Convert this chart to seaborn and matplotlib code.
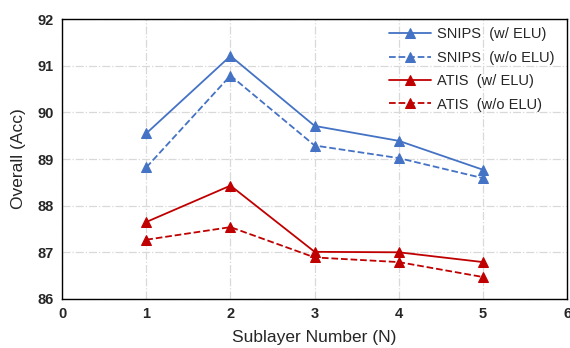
import pandas as pd
from matplotlib import pyplot as plt
import seaborn as sns

sns.set_style("white")
plt.rcParams['font.family'] = ['Liberation Sans', 'DejaVu Sans']

# 데이터
layers = [1, 2, 3, 4, 5]
snips_elu = [89.55, 91.21, 89.71, 89.39, 88.77]
snips_no_elu = [88.82, 90.79, 89.29, 89.02, 88.59]
atis_elu = [87.65, 88.43, 87.01, 87.00, 86.79]
atis_no_elu = [87.27, 87.54, 86.89, 86.79, 86.47]

series = [
    ("SNIPS  (w/ ELU)", snips_elu, "#4472C4", "-"),
    ("SNIPS  (w/o ELU)", snips_no_elu, "#4472C4", "--"),
    ("ATIS  (w/ ELU)", atis_elu, "#C00000", "-"),
    ("ATIS  (w/o ELU)", atis_no_elu, "#C00000", "--"),
]

fig = plt.figure(figsize=(5.7, 3.48), dpi=100)
ax = fig.add_axes([0.109, 0.141, 0.886, 0.804])

for name, vals, col, ls in series:
    df = pd.DataFrame({"N": layers, "Acc": vals})
    sns.lineplot(ax=ax, data=df, x="N", y="Acc", color=col, linestyle=ls,
                 marker="^", markersize=7, markeredgecolor=col, linewidth=1.3,
                 label=name)

ax.set_xlim(0, 6)
ax.set_ylim(86, 92)
ax.set_xticks(range(0, 7))
ax.set_yticks(range(86, 93))
ax.grid(True, color="#d9d9d9", linestyle="-.", linewidth=0.9)
for s in ax.spines.values():
    s.set_color("black")
    s.set_linewidth(1.0)
ax.tick_params(labelsize=10.5, length=0, pad=6)
for t in ax.get_xticklabels() + ax.get_yticklabels():
    t.set_fontweight("bold")
    t.set_color("#262626")

ax.set_xlabel("Sublayer Number (N)", fontsize=12.5, labelpad=6)
ax.set_ylabel("Overall (Acc)", fontsize=12.5, labelpad=8)

ax.legend(loc="upper right", bbox_to_anchor=(0.99, 1.0), frameon=False,
          fontsize=10.5, handlelength=2.9, borderaxespad=0.15,
          labelspacing=0.65, handletextpad=0.35)

fig.savefig("out.png", dpi=100)
